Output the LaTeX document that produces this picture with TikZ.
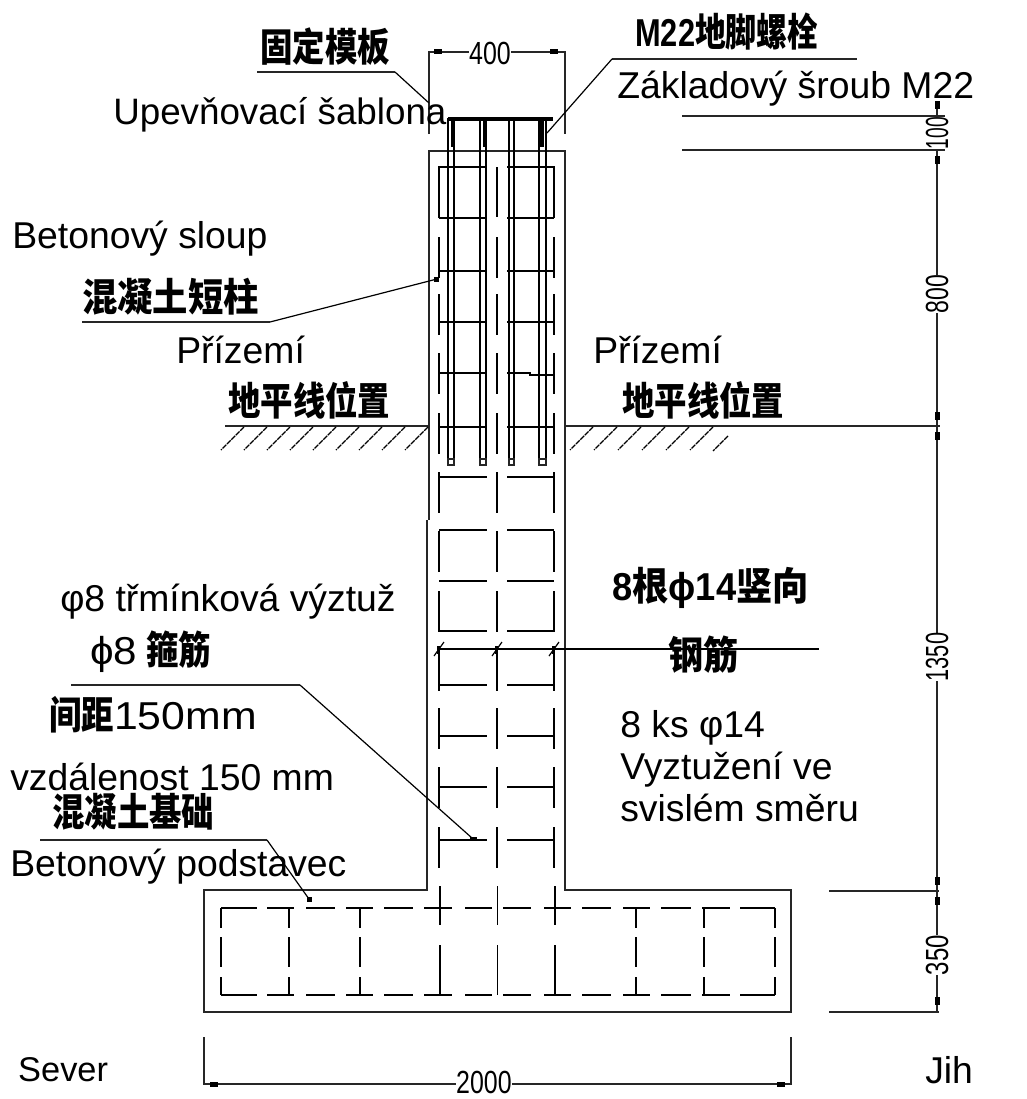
\documentclass[tikz,border=0pt]{standalone}
\usepackage{fontspec}
\setmainfont{Liberation Sans}
\newfontfamily\cjk{Noto Sans CJK SC}
\tikzset{
    outline/.style={line width=1.7pt, black!85},
    rebar/.style={line width=1.9pt, black},
    hoop/.style={line width=1.4pt, black},
    thinline/.style={line width=1.2pt, black!85},
    leader/.style={line width=0.9pt, black},
    hatchline/.style={line width=0.9pt, black, dash pattern=on 4pt off 0.7pt},
    ticksq/.style={fill=black, draw=none},
    czlabel/.style={anchor=west, inner sep=0pt, font=\fontsize{28}{31.5}\selectfont, align=left},
    cnlabel/.style={anchor=west, inner sep=0pt, font=\cjk\bfseries\fontsize{24.3}{24.3}\selectfont},
    dimlabel/.style={inner sep=0pt, fill=white, font=\fontsize{24}{24}\selectfont}
}
\newcommand{\tallcn}[2][1]{\scalebox{#1}[1.2]{#2}}
\newcommand{\narrownum}[2][0.78]{\scalebox{#1}[1]{#2}}
\begin{document}
\begin{tikzpicture}[x=0.75pt, y=-0.75pt]
    \useasboundingbox (0, 0) rectangle (1026, 1099);

    % Footing and column outline
    \draw[outline] (429, 520) -- (429, 151) -- (565, 151) -- (565, 890) -- (791, 890) -- (791, 1012)
        -- (204, 1012) -- (204, 890) -- (427, 890) -- (427, 520);

    % Column hoops
    \draw[rebar] (439, 218) -- (439, 167) -- (487, 167) (507, 167) -- (554, 167) -- (554, 218);
    \draw[rebar] (497, 167) -- (497, 217);
    \foreach \y in {237, 294, 353, 413, 472, 531, 591, 650, 708, 767, 827}
        \draw[rebar] (439, \y) -- ++(0, 41) (497, \y) -- ++(0, 41) (554, \y) -- ++(0, 41);
    \foreach \y in {218, 271, 322, 427, 477, 530, 581, 631, 685, 736, 787, 840}
        \draw[hoop] (439, \y) -- (487, \y) (507, \y) -- (554, \y);
    \draw[hoop] (439, 373) -- (487, 373) (507, 373) -- (530, 373) -- (530, 375) -- (554, 375);

    % Anchor bolts and template
    \foreach \xa/\xb in {448/454, 480/486, 509/514, 539/546} {
        \draw[hoop] (\xa, 118) -- (\xa, 459) (\xb, 118) -- (\xb, 459);
        \draw[thinline] (\xa, 459) rectangle (\xb, 465);
    }
    \draw[line width=3.2pt] (448, 119) -- (553, 119);
    \draw[line width=2.4pt] (453, 119) -- (453, 147) (485, 119) -- (485, 147) (542, 119) -- (542, 147);

    % Footing reinforcement
    \foreach \xa/\xb in {221/257, 267/294, 306/335, 346/373, 384/413, 424/452, 465/492, 503/531,
        544/571, 582/611, 623/650, 661/691, 702/730, 740/775}
        \draw[hoop] (\xa, 908) -- (\xb, 908) (\xa, 995) -- (\xb, 995);
    \foreach \x in {221, 289, 360, 636, 704, 775}
        \draw[hoop] (\x, 908) -- (\x, 928) (\x, 937) -- (\x, 967) (\x, 977) -- (\x, 995);
    \foreach \x in {440, 497.5, 555}
        \draw[hoop] (\x, 886) -- (\x, 925) (\x, 945) -- (\x, 995);

    % Ground lines
    \draw[thinline] (225, 426) -- (428, 426);
    \draw[thinline] (566, 426) -- (940, 426);
    \foreach \x in {244, 267, 290, 313, 336, 359, 382, 405, 428}
        \draw[hatchline] (\x, 427) -- ++(-23, 23);
    \foreach \x in {593, 617, 641, 665, 689, 713}
        \draw[hatchline] (\x, 427) -- ++(-23, 23);
    \draw[hatchline] (728, 436) -- ++(-15, 15);

    % Dimension lines
    \draw[thinline] (429, 134) -- (429, 52) -- (565, 52) -- (565, 134);
    \draw[thinline] (204, 1037) -- (204, 1084) -- (791, 1084) -- (791, 1037);
    \draw[thinline] (937, 103) -- (937, 1012);
    \draw[thinline] (682, 116) -- (945, 116);
    \draw[thinline] (682, 150) -- (945, 150);
    \draw[thinline] (829, 891) -- (939, 891);
    \draw[thinline] (829, 1012) -- (939, 1012);
    \foreach \x in {438, 554}
        \draw[ticksq] (\x-4, 49.5) rectangle (\x+4, 54.5);
    \foreach \x in {214, 781}
        \draw[ticksq] (\x-4, 1081.5) rectangle (\x+4, 1086.5);
    \foreach \y in {105, 160, 416, 436, 881, 901, 1001}
        \draw[ticksq] (934.5, \y-4) rectangle (939.5, \y+4);

    \node[dimlabel] (dimfour) at (490, 53) {\narrownum{400}};
    \node[dimlabel] (dimtwo) at (484, 1082) {\narrownum{2000}};
    \node[dimlabel, rotate=90] (dimone) at (937, 133) {\narrownum[0.6]{100}};
    \node[dimlabel, rotate=90] (dimeight) at (937, 294) {\narrownum[0.72]{800}};
    \node[dimlabel, rotate=90] (dimthirteen) at (937, 657) {\narrownum[0.68]{1350}};
    \node[dimlabel, rotate=90] (dimthree) at (937, 955) {\narrownum[0.75]{350}};

    % Leaders
    \draw[thinline] (257, 72) -- (395, 72);
    \draw[leader] (395, 72) -- (429, 103);
    \draw[thinline] (612, 59) -- (857, 59);
    \draw[leader] (612, 59) -- (547, 133);
    \draw[thinline] (82, 322) -- (270, 322);
    \draw[leader] (270, 322) -- (437, 279);
    \draw[ticksq] (434, 277) rectangle (439, 282);
    \draw[thinline] (71, 685) -- (300, 685);
    \draw[leader] (300, 685) -- (472, 838);
    \draw[ticksq] (470, 837) rectangle (477, 840);
    \draw[thinline] (40, 840) -- (267, 840);
    \draw[leader] (267, 840) -- (309, 899);
    \draw[ticksq] (307, 897) rectangle (312, 902);
    \draw[hoop] (439, 649) -- (819, 649);
    \foreach \x in {439, 497, 554} {
        \draw[leader] (\x-5, 656) -- (\x+5, 642);
        \draw[ticksq] (\x-2, 646) rectangle (\x+1, 654);
    }

    % Chinese labels
    \node[cnlabel] (cntemplate) at (260, 47) {\tallcn{固定模板}};
    \node[cnlabel] (cnbolt) at (635, 32) {\tallcn[0.95]{{\rmfamily\bfseries M22}地脚螺栓}};
    \node[cnlabel] (cnpier) at (82, 297) {\tallcn[1.09]{混凝土短柱}};
    \node[cnlabel] (cngroundl) at (228, 400) {\tallcn{地平线位置}};
    \node[cnlabel] (cngroundr) at (622, 400) {\tallcn{地平线位置}};
    \node[cnlabel] (cnvert) at (612, 588) {\tallcn[1.12]{{\rmfamily\bfseries 8}根{\rmfamily\bfseries ϕ14}竖向}};
    \node[cnlabel] (cnsteel) at (668, 655) {\tallcn[1.08]{钢筋}};
    \node[cnlabel] (cnhoop) at (90, 652) {\tallcn{{\rmfamily\mdseries\scalebox{1.3}[1]{ϕ8} }箍筋}};
    \node[cnlabel] (cnspace) at (49, 715) {\tallcn{间距{\rmfamily\mdseries\scalebox{1.32}[1]{150mm}}}};
    \node[cnlabel] (cnbase) at (52, 812) {\tallcn{混凝土基础}};

    % Czech labels
    \node[czlabel, scale=0.985] (cztemplate) at (113, 115) {Upevňovací šablona};
    \node[czlabel] (czbolt) at (617, 89) {Základový šroub M22};
    \node[czlabel] (czpier) at (12, 239) {Betonový sloup};
    \node[czlabel] (czgroundl) at (176, 350) {Přízemí};
    \node[czlabel] (czgroundr) at (593, 350) {Přízemí};
    \node[czlabel] (czhoop) at (60, 602) {φ8 třmínková výztuž};
    \node[czlabel] (czvert) at (620, 766) {8 ks φ14\\Vyztužení ve\\svislém směru};
    \node[czlabel] (czspace) at (10, 777) {vzdálenost 150 mm};
    \node[czlabel] (czbase) at (10, 867) {Betonový podstavec};
    \node[czlabel, scale=0.92] (cznorth) at (18, 1070) {Sever};
    \node[czlabel] (czsouth) at (925, 1070) {Jih};
\end{tikzpicture}
\end{document}
